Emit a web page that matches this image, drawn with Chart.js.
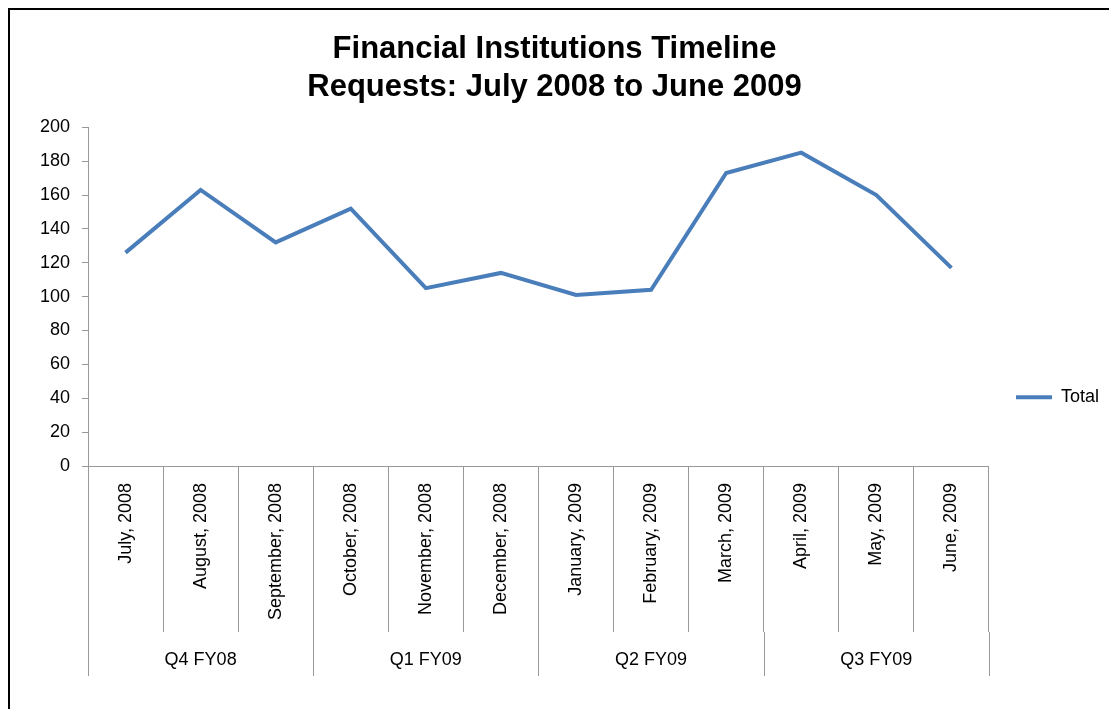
<!DOCTYPE html>
<html>
<head>
<meta charset="utf-8">
<script src="https://cdn.jsdelivr.net/npm/chart.js@4"></script>
<style>
  html, body { margin: 0; padding: 0; background: #ffffff; overflow: hidden; }
  #frame { position: absolute; left: 8px; top: 8px; width: 1200px; height: 800px; border: 2px solid #000; box-sizing: border-box; }
  #wrap { position: absolute; left: 0; top: 0; width: 1109px; height: 709px; }
</style>
</head>
<body>
<div id="frame"></div>
<div id="wrap"><canvas id="c" width="1109" height="709"></canvas></div>
<script>
const titleLines = ['Financial Institutions Timeline', 'Requests: July 2008 to June 2009'];
const months = ['July, 2008', 'August, 2008', 'September, 2008', 'October, 2008', 'November, 2008', 'December, 2008',
                'January, 2009', 'February, 2009', 'March, 2009', 'April, 2009', 'May, 2009', 'June, 2009'];
const totals = [126, 163, 132, 152, 105, 114, 101, 104, 173, 185, 160, 117];
const quarters = ['Q4 FY08', 'Q1 FY09', 'Q2 FY09', 'Q3 FY09'];
const monthsPerQuarter = [3, 3, 3, 3];
const seriesName = 'Total';
const yMin = 0, yMax = 200, yStep = 20;

const FONT = '"Liberation Sans", Arial, sans-serif';
const AXIS = '#999999';
const LINE = '#4a7ebb';
const MONTH_TICK = 166;   // length of the month separators below the axis
const QUARTER_TICK = 210; // length of the quarter separators below the axis

const quarterPlugin = {
  id: 'quarterGroups',
  afterDraw(chart) {
    const x = chart.scales.x;
    const ctx = chart.ctx;
    const top = x.top;
    const half = (x.getPixelForValue(1) - x.getPixelForValue(0)) / 2;
    ctx.save();
    ctx.strokeStyle = AXIS;
    ctx.lineWidth = 1;
    let idx = 0;
    const bounds = [idx];
    monthsPerQuarter.forEach(n => { idx += n; bounds.push(idx); });
    const pix = i => (i < months.length ? x.getPixelForValue(i) - half : x.getPixelForValue(months.length - 1) + half);
    bounds.forEach(b => {
      const px = Math.round(pix(b)) + 0.5;
      ctx.beginPath();
      ctx.moveTo(px, top + MONTH_TICK);
      ctx.lineTo(px, top + QUARTER_TICK);
      ctx.stroke();
    });
    ctx.fillStyle = '#000';
    ctx.font = '18px ' + FONT;
    ctx.textAlign = 'center';
    ctx.textBaseline = 'middle';
    quarters.forEach((q, i) => {
      const cx = (pix(bounds[i]) + pix(bounds[i + 1])) / 2;
      ctx.fillText(q, cx, top + 194);
    });
    ctx.restore();
  }
};

new Chart(document.getElementById('c'), {
  type: 'line',
  data: {
    labels: months,
    datasets: [{
      label: seriesName,
      data: totals,
      borderColor: LINE,
      backgroundColor: LINE,
      borderWidth: 4,
      pointRadius: 0,
      pointHoverRadius: 0,
      tension: 0,
      fill: false
    }]
  },
  options: {
    responsive: false,
    animation: false,
    events: [],
    layout: { padding: { left: 0, right: 0, top: 0, bottom: 0 } },
    plugins: {
      title: {
        display: true,
        text: titleLines,
        color: '#000',
        font: { family: FONT, size: 31, weight: 'bold', lineHeight: 1.23 },
        padding: { top: 30, bottom: 21 }
      },
      legend: {
        display: true,
        position: 'right',
        title: { display: true, text: ' ', font: { size: 12, lineHeight: 1.2 }, padding: { top: 71, bottom: 0 } },
        labels: {
          color: '#000',
          font: { family: FONT, size: 18 },
          boxWidth: 36,
          boxHeight: 4,
          padding: 27,
          generateLabels: (chart) => chart.data.datasets.map((ds, i) => ({
            text: ds.label,
            fillStyle: ds.borderColor,
            strokeStyle: ds.borderColor,
            lineWidth: 0,
            hidden: false,
            datasetIndex: i,
            fontColor: '#000'
          }))
        }
      },
      tooltip: { enabled: false }
    },
    scales: {
      x: {
        type: 'category',
        offset: true,
        grid: { display: true, offset: true, drawOnChartArea: false, drawTicks: true, tickLength: MONTH_TICK, color: AXIS, lineWidth: 1 },
        border: { display: true, color: AXIS, width: 1 },
        ticks: {
          autoSkip: false,
          minRotation: 90,
          maxRotation: 90,
          padding: -149,
          color: '#000',
          font: { family: FONT, size: 18 }
        },
        afterFit: (scale) => { scale.height = 243; }
      },
      y: {
        min: yMin,
        max: yMax,
        grid: { display: true, drawOnChartArea: false, drawTicks: true, tickLength: 6, color: AXIS, lineWidth: 1 },
        border: { display: true, color: AXIS, width: 1 },
        ticks: {
          stepSize: yStep,
          padding: 12,
          color: '#000',
          font: { family: FONT, size: 18 }
        },
        afterFit: (scale) => { scale.width = 88; }
      }
    }
  },
  plugins: [quarterPlugin]
});
</script>
</body>
</html>
